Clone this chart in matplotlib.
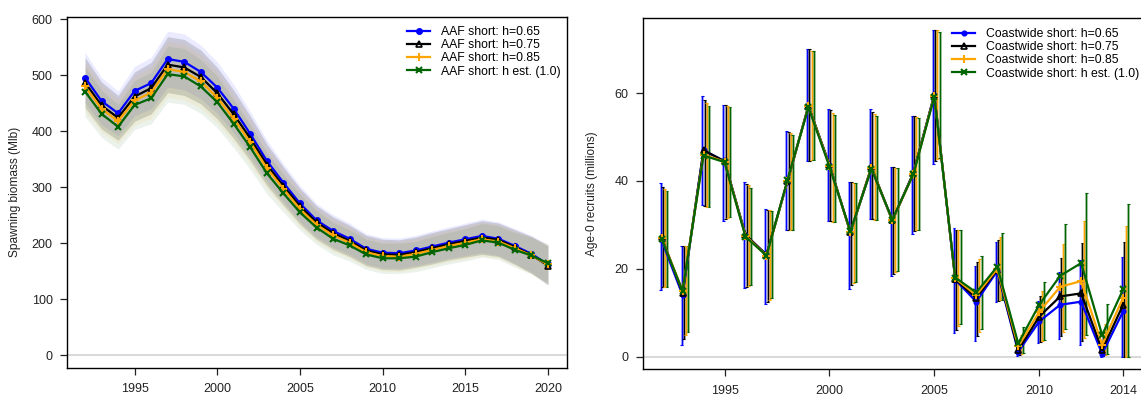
import numpy as np
import matplotlib
matplotlib.use("Agg")
import matplotlib.pyplot as plt

plt.rcParams['font.family'] = ['Liberation Sans', 'DejaVu Sans']

# ---- left panel: spawning biomass (Mlb), 1992-2020 ----
years_sb = list(range(1992, 2021))
sb_h065 = [496, 454, 432, 472, 486, 529, 524, 506, 478, 440, 395, 347, 308, 271, 241,
           222, 208, 190, 183, 182, 187, 194, 201, 207, 213, 208, 195, 181, 162]
sb_h075 = [487, 446, 424, 462, 477, 519, 514, 497, 468, 430, 387, 340, 302, 266, 237,
           218, 204, 187, 180, 179, 184, 191, 198, 204, 210, 206, 193, 179, 160]
sb_h085 = [480, 440, 418, 455, 469, 511, 506, 489, 460, 422, 380, 334, 297, 261, 233,
           214, 201, 184, 177, 176, 181, 188, 195, 201, 207, 203, 191, 178, 162]
sb_hest = [471, 431, 408, 447, 459, 502, 498, 480, 452, 413, 371, 325, 289, 255, 228,
           208, 196, 180, 173, 173, 176, 184, 191, 197, 205, 201, 188, 178, 164]
# half-width of the interval bands
sb_halfwidth = [45, 42, 40, 44, 46, 50, 50, 48, 46, 43, 40, 37, 34, 32, 30,
                29, 28, 27, 27, 27, 27, 28, 28, 29, 30, 30, 31, 33, 35]

# ---- right panel: age-0 recruits (millions), 1992-2014 ----
years_rec = list(range(1992, 2015))
rec_h065 = [26.5, 14.0, 47.0, 44.5, 27.7, 23.2, 39.8, 57.1, 43.7, 28.3, 42.9, 31.0,
            41.8, 59.6, 17.5, 12.5, 19.5, 1.1, 8.0, 11.8, 12.5, 0.6, 10.3]
rec_h075 = [27.3, 14.5, 47.0, 44.5, 27.7, 23.2, 40.0, 57.1, 43.7, 28.3, 43.2, 31.0,
            41.8, 59.6, 17.6, 13.3, 19.8, 1.5, 9.1, 13.7, 14.4, 1.5, 11.8]
rec_h085 = [27.0, 15.0, 46.0, 44.4, 27.5, 23.0, 40.0, 57.0, 43.5, 28.3, 43.0, 31.0,
            41.6, 59.4, 17.8, 14.0, 20.0, 2.3, 10.2, 15.9, 17.2, 2.7, 13.4]
rec_hest = [26.8, 15.0, 45.8, 44.3, 27.3, 23.0, 40.2, 56.8, 43.3, 28.5, 42.8, 31.2,
            41.5, 59.2, 18.0, 14.6, 20.5, 3.0, 11.8, 18.4, 21.3, 4.9, 15.3]
rec_lo_h065 = [15.2, 2.6, 34.6, 30.9, 15.6, 12.0, 28.8, 44.5, 30.8, 15.5, 31.3, 18.3,
               28.0, 43.8, 5.4, 3.6, 12.5, 0.2, 3.2, 4.0, 2.6, 0.0, 0.0]
rec_hi_h065 = [39.5, 25.1, 59.4, 57.3, 39.8, 33.7, 51.4, 70.1, 56.5, 39.8, 56.5, 43.2,
               54.9, 74.5, 29.3, 20.6, 26.0, 2.5, 12.7, 19.3, 22.1, 2.5, 22.6]
rec_lo_h075 = [15.8, 4.1, 34.3, 31.3, 15.8, 12.5, 28.8, 44.6, 30.8, 16.2, 31.3, 18.8,
               28.5, 44.5, 6.0, 4.7, 12.6, 0.4, 3.3, 4.8, 3.5, 0.2, 0.0]
rec_hi_h075 = [38.6, 25.1, 58.5, 57.3, 39.4, 33.5, 51.2, 70.1, 56.1, 39.7, 55.8, 43.1,
               54.8, 74.4, 28.9, 21.5, 26.6, 3.5, 13.7, 22.4, 25.9, 5.0, 26.0]
rec_lo_h085 = [15.9, 5.0, 34.1, 31.6, 16.0, 13.0, 28.8, 44.7, 30.7, 16.8, 31.0, 19.3,
               28.8, 45.0, 6.9, 5.5, 12.8, 0.6, 3.5, 5.6, 4.2, 0.4, 0.0]
rec_hi_h085 = [38.1, 25.1, 57.7, 57.0, 39.0, 33.4, 50.9, 69.6, 55.5, 39.6, 55.3, 43.0,
               54.6, 74.3, 28.9, 22.2, 27.3, 5.0, 15.0, 25.6, 30.8, 7.5, 29.7]
rec_lo_hest = [15.9, 5.6, 34.0, 31.7, 16.2, 13.3, 28.8, 44.7, 30.6, 16.9, 31.0, 19.5,
               28.9, 45.3, 7.4, 6.2, 13.0, 0.8, 3.7, 6.2, 5.0, 0.6, 0.0]
rec_hi_hest = [37.7, 25.1, 57.0, 56.8, 38.5, 33.2, 50.5, 69.5, 55.0, 39.6, 54.7, 42.9,
               54.4, 74.0, 28.9, 22.9, 28.2, 6.7, 16.9, 30.2, 37.3, 11.9, 34.8]

sb_labels = ["AAF short: h=0.65", "AAF short: h=0.75", "AAF short: h=0.85",
             "AAF short: h est. (1.0)"]
rec_labels = ["Coastwide short: h=0.65", "Coastwide short: h=0.75",
              "Coastwide short: h=0.85", "Coastwide short: h est. (1.0)"]

colors = ['#0000ff', '#000000', '#ffa500', '#006400']
band_alpha = [0.08, 0.15, 0.08, 0.08]
markers = [dict(marker='o', ms=4, mfc='#0000ff', mec='#0000ff', mew=1.0),
           dict(marker='^', ms=4.5, mfc='none', mec='#000000', mew=1.2),
           dict(marker='+', ms=6, mec='#ffa500', mew=1.5),
           dict(marker='x', ms=4.5, mec='#006400', mew=1.5)]

W, H = 1141, 397
fig = plt.figure(figsize=(W / 100, H / 100), dpi=100)


def px_axes(x0, y0, x1, y1):
    return fig.add_axes([x0 / W, 1 - y1 / H, (x1 - x0) / W, (y1 - y0) / H])


def style_axes(ax):
    for s in ax.spines.values():
        s.set_linewidth(1.0)
    ax.tick_params(direction='out', length=5, width=0.9, labelsize=9, colors='#222222')
    ax.tick_params(axis='x', pad=6)
    ax.tick_params(axis='y', pad=5)


# ---------------- left ----------------
ax1 = px_axes(66.5, 16.5, 566.5, 368)
series_sb = [sb_h065, sb_h075, sb_h085, sb_hest]
hw = np.array(sb_halfwidth)
for vals, c, a in zip(series_sb, colors, band_alpha):
    v = np.array(vals)
    ax1.fill_between(years_sb, v - hw, v + hw, color=c, alpha=a, lw=0)
ax1.axhline(0, color='#d9d9d9', lw=1.5, zorder=1)
for vals, c, mk, lab in zip(series_sb, colors, markers, sb_labels):
    ax1.plot(years_sb, vals, color=c, lw=1.6, label=lab, **mk)
ax1.set_xlim(1990.88, 2021.12)
ax1.set_ylim(-23, 605)
ax1.set_xticks([1995, 2000, 2005, 2010, 2015, 2020])
ax1.set_yticks([0, 100, 200, 300, 400, 500, 600])
ax1.set_ylabel("Spawning biomass (Mlb)", fontsize=8.6, color='#222222')
ax1.yaxis.set_label_coords(-0.09, 0.5)
style_axes(ax1)
ax1.legend(loc='upper left', bbox_to_anchor=(407 / W, 1 - 26 / H),
           bbox_transform=fig.transFigure, frameon=False, fontsize=8.8,
           handlelength=1.9, handletextpad=0.9, labelspacing=0.1,
           borderpad=0, borderaxespad=0)

# ---------------- right ----------------
ax2 = px_axes(642.7, 17.7, 1142, 369.3)
ax2.axhline(0, color='#d9d9d9', lw=1.5, zorder=1)
series_rec = [rec_h065, rec_h075, rec_h085, rec_hest]
lows = [rec_lo_h065, rec_lo_h075, rec_lo_h085, rec_lo_hest]
highs = [rec_hi_h065, rec_hi_h075, rec_hi_h085, rec_hi_hest]
offsets = [-0.05, 0.05, 0.15, 0.25]
for lo, hi, c, off in zip(lows, highs, colors, offsets):
    xs = np.array(years_rec) + off
    ax2.vlines(xs, lo, hi, color=c, lw=2.2, alpha=0.35, zorder=2)
    ax2.vlines(xs, lo, hi, color=c, lw=0.8, zorder=2)
    ax2.hlines(lo, xs - 0.06, xs + 0.06, color=c, lw=0.8, zorder=2)
    ax2.hlines(hi, xs - 0.06, xs + 0.06, color=c, lw=0.8, zorder=2)
rec_markers = [dict(mk, ms=mk['ms'] * 0.85) for mk in markers]
for vals, c, mk, lab in zip(series_rec, colors, rec_markers, rec_labels):
    ax2.plot(years_rec, vals, color=c, lw=1.6, label=lab, zorder=3, **mk)
ax2.set_xlim(1991.1, 2014.9)
ax2.set_ylim(-2.9, 77.2)
ax2.set_xticks([1995, 2000, 2005, 2010, 2014])
ax2.set_yticks([0, 20, 40, 60])
ax2.set_ylabel("Age-0 recruits (millions)", fontsize=8.6, color='#222222')
ax2.yaxis.set_label_coords(-0.089, 0.5)
style_axes(ax2)
ax2.legend(loc='upper left', bbox_to_anchor=(952 / W, 1 - 28 / H),
           bbox_transform=fig.transFigure, frameon=False, fontsize=8.8,
           handlelength=1.9, handletextpad=0.9, labelspacing=0.1,
           borderpad=0, borderaxespad=0)

fig.savefig("out.png", dpi=100)
